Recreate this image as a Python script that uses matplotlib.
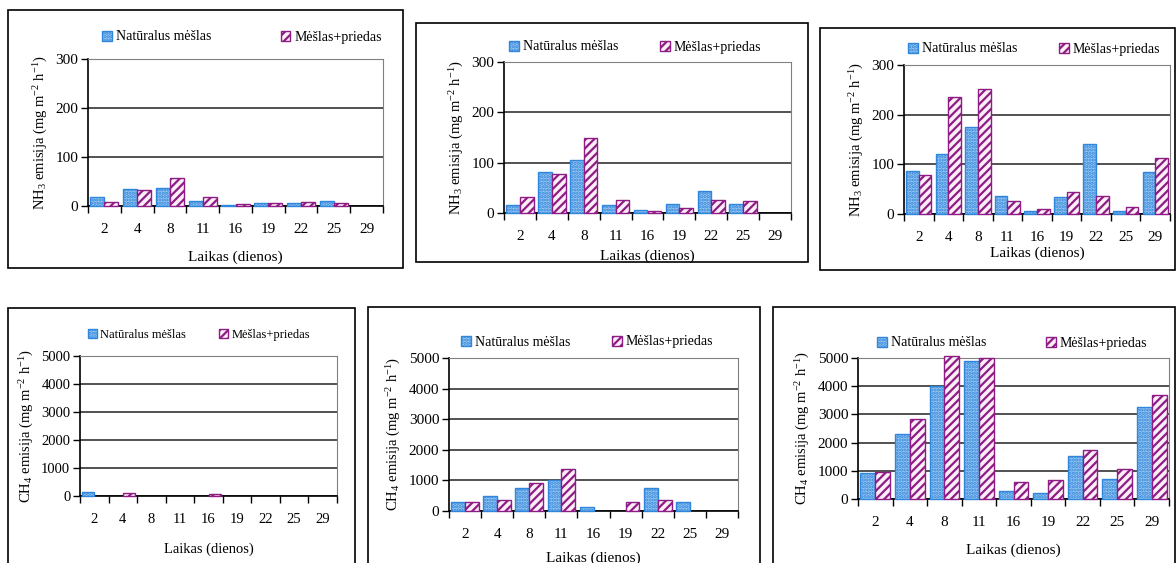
import matplotlib
matplotlib.use("Agg")
from matplotlib import pyplot as plt
from matplotlib.patches import Rectangle, Patch
import numpy as np

plt.rcParams['font.family'] = ['Liberation Serif', 'DejaVu Serif']
plt.rcParams['mathtext.fontset'] = 'custom'
plt.rcParams['mathtext.rm'] = 'Liberation Serif'
plt.rcParams['mathtext.it'] = 'Liberation Serif:italic'
plt.rcParams['hatch.linewidth'] = 1.6

days = ['2', '4', '8', '11', '16', '19', '22', '25', '29']
label_nat = 'Natūralus mėšlas'
label_add = 'Mėšlas+priedas'
xlabel = 'Laikas (dienos)'
ylabel_nh3 = 'NH$_3$ emisija (mg m$^{-2}$ h$^{-1}$)'
ylabel_ch4 = 'CH$_4$ emisija (mg m$^{-2}$ h$^{-1}$)'

# NH3, three trials
nh3_nat_1 = [19, 34, 36, 11, 3, 7, 7, 11, 0]
nh3_add_1 = [9, 32, 58, 18, 5, 6, 9, 7, 0]
nh3_nat_2 = [15, 82, 105, 16, 5, 17, 43, 17, 0]
nh3_add_2 = [32, 78, 149, 26, 4, 10, 26, 23, 0]
nh3_nat_3 = [87, 120, 176, 36, 7, 34, 140, 7, 85]
nh3_add_3 = [78, 235, 251, 27, 10, 45, 36, 14, 113]

# CH4, three trials
ch4_nat_1 = [150, 0, 0, 0, 0, 0, 0, 0, 0]
ch4_add_1 = [0, 120, 0, 0, 60, 0, 0, 0, 0]
ch4_nat_2 = [300, 490, 750, 1000, 140, 0, 750, 300, 0]
ch4_add_2 = [300, 370, 900, 1370, 0, 290, 370, 0, 0]
ch4_nat_3 = [930, 2320, 4020, 4890, 290, 220, 1540, 700, 3250]
ch4_add_3 = [965, 2850, 5080, 5000, 590, 670, 1730, 1080, 3700]

W, H = 1176, 563
fig = plt.figure(figsize=(W / 100, H / 100), dpi=100)

def px_axes(l, r, t, b):
    return fig.add_axes([l / W, 1 - b / H, (r - l) / W, (b - t) / H])

def box(l, r, t, b):
    fig.patches.append(Rectangle((l / W, 1 - b / H), (r - l) / W, (b - t) / H,
                                 transform=fig.transFigure, fill=False,
                                 edgecolor='black', linewidth=1.2))

blue_face = '#9cc8f0'
blue_edge = '#2f86dc'
purple_face = '#fbeef6'
purple_edge = '#8e1c84'

def panel(ax, nat, add, ymax, step, ylabel, leg_xy, colsp, xlab_pad, fs=11, lfs=10):
    x = np.arange(len(days))
    w = 0.43
    nat = np.array(nat, dtype=float)
    add = np.array(add, dtype=float)
    m1 = nat > 0
    m2 = add > 0
    ax.bar(x[m1] - w / 2, nat[m1], w, color=blue_face, edgecolor=blue_edge,
           hatch='.....', linewidth=1.0, clip_on=False, zorder=3)
    ax.bar(x[m2] + w / 2, add[m2], w, color=purple_face, edgecolor=purple_edge,
           hatch='////', linewidth=1.0, clip_on=False, zorder=3)
    ax.set_xlim(-0.5, len(days) - 0.5)
    ax.set_ylim(0, ymax)
    ax.set_yticks(np.arange(0, ymax + 1, step))
    ax.set_xticks(x)
    ax.set_xticklabels(days)
    ax.set_xticks(np.arange(-0.5, len(days), 1), minor=True)
    ax.tick_params(axis='x', which='major', length=0, pad=12, labelsize=fs)
    ax.tick_params(axis='x', which='minor', length=5, width=1, direction='out')
    ax.tick_params(axis='y', length=5, width=1, direction='out', labelsize=fs, pad=2)
    ax.yaxis.grid(True, color='#333333', linewidth=1.2, zorder=0)
    ax.set_axisbelow(True)
    for s in ['top', 'right']:
        ax.spines[s].set_color('#808080')
    for s in ['left', 'bottom']:
        ax.spines[s].set_linewidth(1.2)
    ax.set_ylabel(ylabel, fontsize=10.5, labelpad=4)
    ax.set_xlabel(xlabel, fontsize=fs, labelpad=xlab_pad)
    handles = [Patch(facecolor=blue_face, edgecolor=blue_edge, hatch='.....'),
               Patch(facecolor=purple_face, edgecolor=purple_edge, hatch='////')]
    lx, ly = leg_xy
    fig.legend(handles, [label_nat, label_add], ncol=2, frameon=False,
               loc='center left', bbox_to_anchor=(lx / W, 1 - ly / H),
               bbox_transform=fig.transFigure,
               fontsize=lfs, handlelength=0.7, handleheight=0.7,
               handletextpad=0.3, columnspacing=colsp, borderpad=0,
               borderaxespad=0)

# frames
box(8, 403, 10, 268)
box(416, 808, 23, 262)
box(820, 1175, 28, 270)
box(8, 355, 308, 570)
box(368, 760, 307, 570)
box(773, 1175, 307, 570)

ax1 = px_axes(88, 383, 59, 206)
panel(ax1, nh3_nat_1, nh3_add_1, 300, 100, ylabel_nh3, (102, 37), 5.0, 11)
ax2 = px_axes(504, 791, 62, 213)
panel(ax2, nh3_nat_2, nh3_add_2, 300, 100, ylabel_nh3, (509, 47), 3.0, 5)
ax3 = px_axes(904, 1170, 65, 214)
panel(ax3, nh3_nat_3, nh3_add_3, 300, 100, ylabel_nh3, (908, 49), 3.0, 2)
ax4 = px_axes(80, 337, 356, 496)
panel(ax4, ch4_nat_1, ch4_add_1, 5000, 1000, ylabel_ch4, (88, 335), 2.6, 12, fs=10.5, lfs=9)
ax5 = px_axes(449, 738, 358, 511)
panel(ax5, ch4_nat_2, ch4_add_2, 5000, 1000, ylabel_ch4, (461, 342), 3.0, 8)
ax6 = px_axes(858, 1169, 358, 499)
panel(ax6, ch4_nat_3, ch4_add_3, 5000, 1000, ylabel_ch4, (877, 343), 4.3, 11)

fig.savefig('out.png', dpi=100)
